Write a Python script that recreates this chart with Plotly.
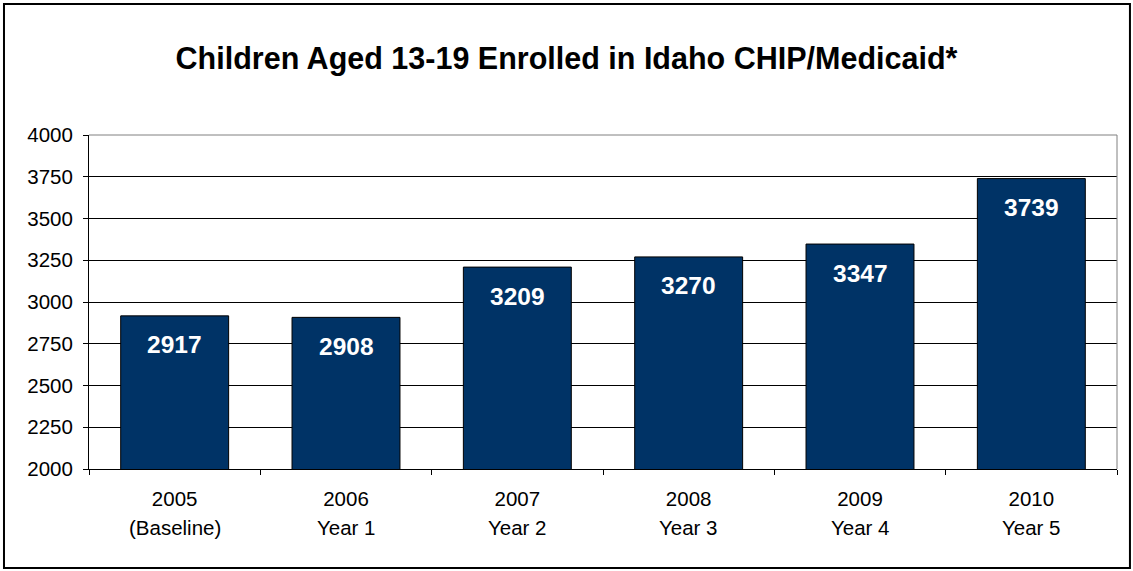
import plotly.graph_objects as go

years = ["2005", "2006", "2007", "2008", "2009", "2010"]
periods = ["(Baseline)", "Year 1", "Year 2", "Year 3", "Year 4", "Year 5"]
enrolled = [2917, 2908, 3209, 3270, 3347, 3739]
y_ticks = [2000, 2250, 2500, 2750, 3000, 3250, 3500, 3750, 4000]

pos = list(range(len(years)))
FONT = "Liberation Sans, Arial, sans-serif"

fig = go.Figure()
fig.add_trace(go.Bar(
    x=pos, y=enrolled, width=0.63,
    marker=dict(color="#003366", line=dict(color="black", width=1)),
    hoverinfo="skip",
))

annotations = []
for p, v in zip(pos, enrolled):
    annotations.append(dict(x=p, y=v, xref="x", yref="y", text=f"<b>{v}</b>",
                            showarrow=False, yanchor="middle", yshift=-29,
                            font=dict(family=FONT, size=24.5, color="white")))
for p, t in zip(pos, periods):
    annotations.append(dict(x=p, y=-0.1737, xref="x", yref="paper", text=t,
                            showarrow=False, yanchor="middle",
                            font=dict(family=FONT, size=20.5, color="black")))

shapes = [
    dict(type="line", xref="paper", yref="paper", x0=0, x1=1, y0=1, y1=1,
         line=dict(color="#808080", width=1), layer="above"),
    dict(type="line", xref="paper", yref="paper", x0=1, x1=1, y0=0, y1=1,
         line=dict(color="#808080", width=1), layer="above"),
    dict(type="rect", xref="paper", yref="paper", x0=-0.0827, x1=1.0126,
         y0=-0.2964, y1=1.3922, line=dict(color="black", width=2)),
]

fig.update_layout(
    width=1133, height=571,
    margin=dict(l=89, r=16, t=135, b=102),
    paper_bgcolor="white", plot_bgcolor="white",
    showlegend=False,
    title=dict(text="<b>Children Aged 13-19 Enrolled in Idaho CHIP/Medicaid*</b>",
               x=0.5, xref="container", xanchor="center",
               y=1 - 58 / 571, yref="container", yanchor="middle",
               font=dict(family=FONT, size=30.5, color="black")),
    xaxis=dict(range=[-0.5, len(years) - 0.5], tickvals=pos, ticktext=years,
               ticks="", showgrid=False, zeroline=False,
               showline=True, linecolor="black", linewidth=1,
               tickfont=dict(family=FONT, size=20.5, color="black"),
               ticklabelstandoff=11,
               minor=dict(ticks="outside", tick0=-0.5, dtick=1, ticklen=5,
                          tickcolor="black", tickwidth=1, showgrid=False)),
    yaxis=dict(range=[2000, 4000], tickvals=y_ticks,
               ticks="outside", ticklen=5, tickcolor="black",
               ticklabelstandoff=6,
               showgrid=True, gridcolor="black", gridwidth=1,
               zeroline=False, showline=True, linecolor="black", linewidth=1,
               tickfont=dict(family=FONT, size=20.5, color="black")),
    annotations=annotations,
    shapes=shapes,
    bargap=0.37,
)

fig.write_html("out.html",
               config={"displayModeBar": False},
               post_script="document.body.style.margin='0';document.body.style.padding='0';")
